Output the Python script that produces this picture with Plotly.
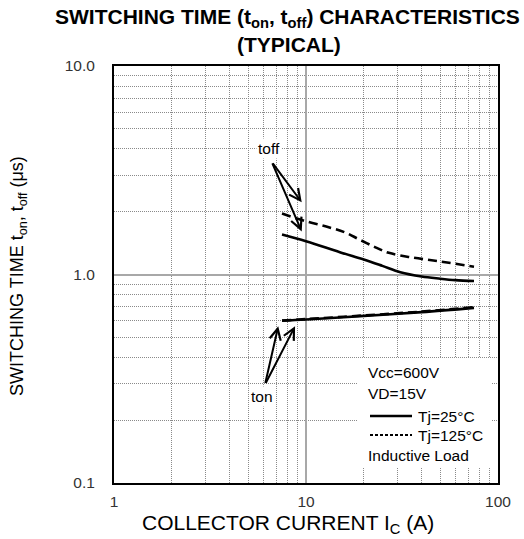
import math
import plotly.graph_objects as go

# ---- data ----
ic_toff_25 = [7.5, 10, 15, 20, 25, 31, 40, 50, 60, 75]
toff_25 = [1.556, 1.445, 1.28, 1.18, 1.10, 1.025, 0.978, 0.955, 0.94, 0.93]
ic_toff_125 = [7.5, 10, 13, 16, 19, 23, 27, 35, 50, 75]
toff_125 = [1.96, 1.80, 1.69, 1.59, 1.47, 1.35, 1.27, 1.21, 1.155, 1.09]
ic_ton = [7.5, 10, 20, 40, 75]
ton_25 = [0.600, 0.608, 0.633, 0.660, 0.692]
ton_125 = [0.602, 0.611, 0.636, 0.664, 0.697]

x_tickvals = [1, 10, 100]
x_ticktext = ["1", "10", "100"]
y_tickvals = [0.1, 1, 10]
y_ticktext = ["0.1", "1.0", "10.0"]
x_minor = [m * d for d in (1, 10) for m in range(2, 10)]
y_minor = [m * d for d in (0.1, 1) for m in range(2, 10)]

title_lines = ["SWITCHING TIME (t<sub>on</sub>, t<sub>off</sub>) CHARACTERISTICS", "(TYPICAL)"]
x_title = "COLLECTOR CURRENT I<sub>C</sub> (A)"
y_title = "SWITCHING TIME t<sub>on</sub>, t<sub>off</sub> (μs)"
cond_lines = ["Vcc=600V", "VD=15V"]
legend_labels = ["Tj=25°C", "Tj=125°C"]
load_label = "Inductive Load"

# arrow pointers (data units): label position and arrow heads
toff_label = (6.41, 4.02)
toff_heads = [(9.5, 2.22), (9.5, 1.61)]
ton_label = (5.9, 0.26)
ton_heads = [(7.17, 0.565), (8.77, 0.565)]

FONT = "Liberation Sans, Arial, sans-serif"

# plot area in pixels
W, H = 524, 539
L, R, T, B = 114, 498, 66, 483


def px(x):
    return (x - L) / (R - L)


def py(y):
    return (B - y) / (B - T)


fig = go.Figure()
fig.add_trace(go.Scatter(x=ic_toff_125, y=toff_125, mode="lines", line_shape="spline",
                         line=dict(color="black", width=2.6, dash="9px,5px")))
fig.add_trace(go.Scatter(x=ic_toff_25, y=toff_25, mode="lines", line_shape="spline",
                         line=dict(color="black", width=2.6)))
fig.add_trace(go.Scatter(x=ic_ton, y=ton_125, mode="lines", line_shape="spline",
                         line=dict(color="black", width=2.6, dash="9px,5px")))
fig.add_trace(go.Scatter(x=ic_ton, y=ton_25, mode="lines", line_shape="spline",
                         line=dict(color="black", width=2.6)))

axis_common = dict(
    type="log",
    showline=True, mirror=True, linecolor="black", linewidth=2,
    showgrid=True, gridcolor="#a8a8a8", gridwidth=1.6,
    zeroline=False,
    tickmode="array",
    tickfont=dict(family=FONT, size=15.5, color="#333"),
    ticks="outside", tickcolor="rgba(0,0,0,0)",
)
minor_common = dict(showgrid=True, gridcolor="#8a8a8a", griddash="1px,1px", gridwidth=1, ticks="")

fig.update_xaxes(**axis_common, range=[0, 2], tickvals=x_tickvals, ticktext=x_ticktext,
                 ticklen=3, minor=dict(tickvals=x_minor, **minor_common))
fig.update_yaxes(**axis_common, range=[-1, 1], tickvals=y_tickvals, ticktext=y_ticktext,
                 ticklen=14, minor=dict(tickvals=y_minor, **minor_common))

ann = []
# titles
ann.append(dict(x=px(287), y=py(18), text=f"<b>{title_lines[0]}</b>", font=dict(family=FONT, size=21, color="black")))
ann.append(dict(x=px(289), y=py(44), text=f"<b>{title_lines[1]}</b>", font=dict(family=FONT, size=21, color="black")))
ann.append(dict(x=px(288), y=py(524), text=x_title, font=dict(family=FONT, size=21, color="black")))
ann.append(dict(x=px(18), y=py(276), text=y_title, textangle=-90, font=dict(family=FONT, size=18, color="black")))
for a in ann:
    a.update(xref="paper", yref="paper", showarrow=False, xanchor="center", yanchor="middle")

# legend box texts
leg_font = dict(family=FONT, size=15.5, color="black")
for txt, yy in zip(cond_lines + [load_label], [372, 393, 455]):
    ann.append(dict(x=px(366), y=py(yy), text=txt, xref="paper", yref="paper", showarrow=False,
                    xanchor="left", yanchor="middle", font=leg_font))
for txt, yy in zip(legend_labels, [416, 435]):
    ann.append(dict(x=px(416), y=py(yy), text=txt, xref="paper", yref="paper", showarrow=False,
                    xanchor="left", yanchor="middle", font=leg_font))

# pointer labels
ann.append(dict(x=math.log10(toff_label[0]), y=math.log10(toff_label[1]), text="toff", xref="x", yref="y",
                showarrow=False, bgcolor="white", font=dict(family=FONT, size=15.5, color="black")))
ann.append(dict(x=math.log10(ton_label[0]), y=math.log10(ton_label[1]), text="ton", xref="x", yref="y",
                showarrow=False, bgcolor="white", font=dict(family=FONT, size=15.5, color="black")))

# arrows: tail near label, head at curve
toff_tail = (271.7, 162.3)
ton_tail = (265, 385)
for heads, tail in ((toff_heads, toff_tail), (ton_heads, ton_tail)):
    for hx, hy in heads:
        ann.append(dict(x=math.log10(hx), y=math.log10(hy), xref="x", yref="y",
                        ax=(tail[0] - L) / 192.0, ay=(275 - tail[1]) / 208.5,
                        axref="x", ayref="y", text="", showarrow=True,
                        arrowhead=5, arrowsize=1.1, arrowwidth=2, arrowcolor="black"))

shapes = [
    dict(type="rect", xref="paper", yref="paper", x0=px(357), x1=px(492), y0=py(468), y1=py(358),
         fillcolor="white", line=dict(width=0), layer="above"),
    dict(type="line", xref="paper", yref="paper", x0=px(370), x1=px(412), y0=py(416), y1=py(416),
         line=dict(color="black", width=2.6), layer="above"),
    dict(type="line", xref="paper", yref="paper", x0=px(370), x1=px(412), y0=py(435), y1=py(435),
         line=dict(color="black", width=1.8, dash="3px,2px"), layer="above"),
]

fig.update_layout(
    width=W, height=H,
    margin=dict(l=L, r=W - R, t=T, b=H - B, pad=0),
    paper_bgcolor="white", plot_bgcolor="white",
    showlegend=False,
    annotations=ann, shapes=shapes,
)

fig.write_html("out.html")
